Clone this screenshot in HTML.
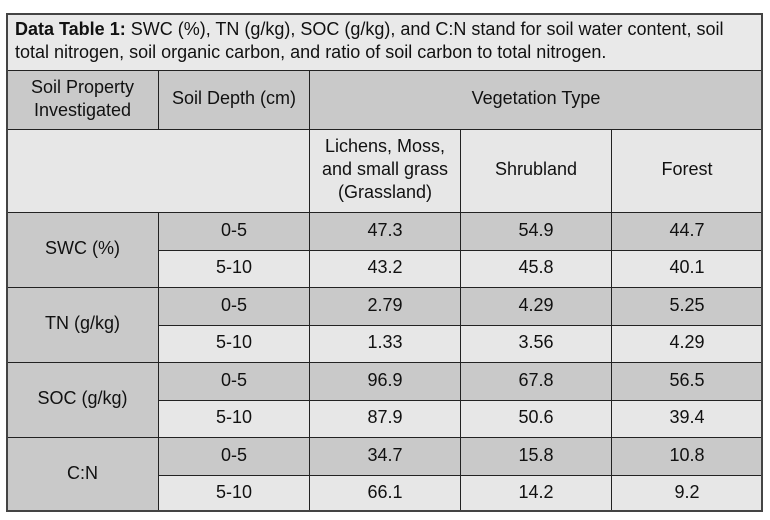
<!DOCTYPE html>
<html><head><style>
body{margin:0;width:770px;height:520px;background:#fff;position:relative;font-family:"Liberation Sans",sans-serif;color:#111;overflow:hidden}
.c{position:absolute;box-sizing:border-box;border:1px solid #222;display:flex;align-items:center;justify-content:center;text-align:center;font-size:18px;line-height:23px;padding-bottom:3px}
.d{background:#c9c9c9}.l{background:#e7e7e7}
#cap{position:absolute;left:6px;top:13px;width:756px;height:58px;box-sizing:border-box;border:1px solid #222;background:#e9e9e9;font-size:18px;line-height:23px;padding:4px 8px;white-space:nowrap}
#frame{position:absolute;left:6px;top:13px;width:757px;height:499px;box-sizing:border-box;border:2px solid #444;pointer-events:none}
</style></head><body>
<div id="cap"><b>Data Table 1:</b> SWC (%), TN (g/kg), SOC (g/kg), and C:N stand for soil water content, soil<br>total nitrogen, soil organic carbon, and ratio of soil carbon to total nitrogen.</div>

<div class="c d" style="left:6px;top:70px;width:153px;height:60px">Soil Property<br>Investigated</div>
<div class="c d" style="left:158px;top:70px;width:152px;height:60px">Soil Depth (cm)</div>
<div class="c d" style="left:309px;top:70px;width:454px;height:60px">Vegetation Type</div>

<div class="c l" style="left:6px;top:129px;width:304px;height:84px"></div>
<div class="c l" style="left:309px;top:129px;width:152px;height:84px">Lichens, Moss,<br>and small grass<br>(Grassland)</div>
<div class="c l" style="left:460px;top:129px;width:152px;height:84px">Shrubland</div>
<div class="c l" style="left:611px;top:129px;width:152px;height:84px">Forest</div>

<div class="c d" style="left:6px;top:212px;width:153px;height:76px">SWC (%)</div>
<div class="c d" style="left:6px;top:287px;width:153px;height:76px">TN (g/kg)</div>
<div class="c d" style="left:6px;top:362px;width:153px;height:76px">SOC (g/kg)</div>
<div class="c d" style="left:6px;top:437px;width:153px;height:75px">C:N</div>

<div class="c d" style="left:158px;top:212px;width:152px;height:39px">0-5</div>
<div class="c d" style="left:309px;top:212px;width:152px;height:39px">47.3</div>
<div class="c d" style="left:460px;top:212px;width:152px;height:39px">54.9</div>
<div class="c d" style="left:611px;top:212px;width:152px;height:39px">44.7</div>
<div class="c l" style="left:158px;top:250px;width:152px;height:38px">5-10</div>
<div class="c l" style="left:309px;top:250px;width:152px;height:38px">43.2</div>
<div class="c l" style="left:460px;top:250px;width:152px;height:38px">45.8</div>
<div class="c l" style="left:611px;top:250px;width:152px;height:38px">40.1</div>

<div class="c d" style="left:158px;top:287px;width:152px;height:39px">0-5</div>
<div class="c d" style="left:309px;top:287px;width:152px;height:39px">2.79</div>
<div class="c d" style="left:460px;top:287px;width:152px;height:39px">4.29</div>
<div class="c d" style="left:611px;top:287px;width:152px;height:39px">5.25</div>
<div class="c l" style="left:158px;top:325px;width:152px;height:38px">5-10</div>
<div class="c l" style="left:309px;top:325px;width:152px;height:38px">1.33</div>
<div class="c l" style="left:460px;top:325px;width:152px;height:38px">3.56</div>
<div class="c l" style="left:611px;top:325px;width:152px;height:38px">4.29</div>

<div class="c d" style="left:158px;top:362px;width:152px;height:39px">0-5</div>
<div class="c d" style="left:309px;top:362px;width:152px;height:39px">96.9</div>
<div class="c d" style="left:460px;top:362px;width:152px;height:39px">67.8</div>
<div class="c d" style="left:611px;top:362px;width:152px;height:39px">56.5</div>
<div class="c l" style="left:158px;top:400px;width:152px;height:38px">5-10</div>
<div class="c l" style="left:309px;top:400px;width:152px;height:38px">87.9</div>
<div class="c l" style="left:460px;top:400px;width:152px;height:38px">50.6</div>
<div class="c l" style="left:611px;top:400px;width:152px;height:38px">39.4</div>

<div class="c d" style="left:158px;top:437px;width:152px;height:39px">0-5</div>
<div class="c d" style="left:309px;top:437px;width:152px;height:39px">34.7</div>
<div class="c d" style="left:460px;top:437px;width:152px;height:39px">15.8</div>
<div class="c d" style="left:611px;top:437px;width:152px;height:39px">10.8</div>
<div class="c l" style="left:158px;top:475px;width:152px;height:37px">5-10</div>
<div class="c l" style="left:309px;top:475px;width:152px;height:37px">66.1</div>
<div class="c l" style="left:460px;top:475px;width:152px;height:37px">14.2</div>
<div class="c l" style="left:611px;top:475px;width:152px;height:37px">9.2</div>

<div id="frame"></div>
</body></html>
